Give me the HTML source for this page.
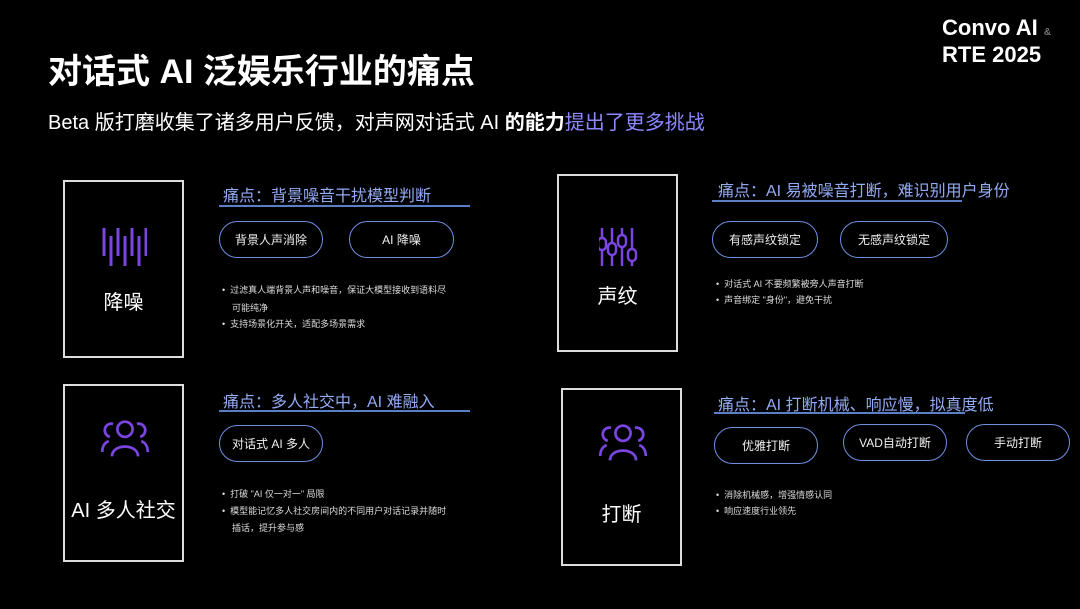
<!DOCTYPE html>
<html><head><meta charset="utf-8"><style>
*{margin:0;padding:0;box-sizing:border-box}
body{width:1080px;height:609px;background:#000;position:relative;overflow:hidden;font-family:"Liberation Sans","Noto Sans CJK SC",sans-serif;color:#fff}
.a{position:absolute;white-space:nowrap}
.box{position:absolute;border:2px solid #ddd}
.lbl{position:absolute;left:0;right:0;text-align:center;font-size:20px}
.h{position:absolute;font-size:16px;color:#93aaf5;white-space:nowrap}
.ul{position:absolute;height:2px;background:#5b7fc4}
.pill{position:absolute;border:1.8px solid #6f8fe0;border-radius:19px;display:flex;align-items:center;justify-content:center;font-size:12px;color:#f0f0f0}
.b{position:absolute;font-size:9px;color:#ddd;white-space:nowrap}
</style></head><body>
<div class="a" style="left:48px;top:44px;font-size:34px;font-weight:bold">对话式 AI 泛娱乐行业的痛点</div>
<div class="a" style="left:48px;top:106px;font-size:20px">Beta 版打磨收集了诸多用户反馈，对声网对话式 AI <b>的能力</b><span style="color:#8c88ff">提出了更多挑战</span></div>
<div class="a" style="left:942px;top:17px;font-size:22px;line-height:22px;font-weight:bold">Convo AI <span style="font-size:10px;color:#777">&amp;</span><br>RTE 2025</div>

<!-- box1 -->
<div class="box" style="left:63px;top:180px;width:121px;height:178px">
<svg style="position:absolute;left:36px;top:44px" width="46" height="42"><g stroke="#7a45e0" stroke-width="3">
<line x1="3" y1="2" x2="3" y2="30"/><line x1="10" y1="10" x2="10" y2="40"/><line x1="17" y1="2" x2="17" y2="30"/><line x1="24" y1="10" x2="24" y2="40"/><line x1="31" y1="2" x2="31" y2="30"/><line x1="38" y1="10" x2="38" y2="40"/><line x1="45" y1="2" x2="45" y2="30"/></g></svg>
<div class="lbl" style="top:104px">降噪</div></div>
<div class="h" style="left:223px;top:182px">痛点：背景噪音干扰模型判断</div>
<div class="ul" style="left:219px;top:205px;width:251px"></div>
<div class="pill" style="left:219px;top:221px;width:104px;height:37px">背景人声消除</div>
<div class="pill" style="left:349px;top:221px;width:105px;height:37px">AI 降噪</div>
<div class="b" style="left:222px;top:283px">•&nbsp; 过滤真人端背景人声和噪音，保证大模型接收到语料尽</div>
<div class="b" style="left:232px;top:301px">可能纯净</div>
<div class="b" style="left:222px;top:317px">•&nbsp; 支持场景化开关，适配多场景需求</div>

<!-- box2 -->
<div class="box" style="left:557px;top:174px;width:121px;height:178px">
<svg style="position:absolute;left:40px;top:52px" width="40" height="40"><g stroke="#7a45e0" stroke-width="2.5" fill="none">
<line x1="3" y1="0" x2="3" y2="38"/><line x1="13" y1="0" x2="13" y2="38"/><line x1="23" y1="0" x2="23" y2="38"/><line x1="33" y1="0" x2="33" y2="38"/>
<rect x="-1" y="10" width="8" height="12" rx="4" fill="#000"/><rect x="9" y="15" width="8" height="12" rx="4" fill="#000"/><rect x="19" y="7" width="8" height="12" rx="4" fill="#000"/><rect x="29" y="21" width="8" height="12" rx="4" fill="#000"/></g></svg>
<div class="lbl" style="top:104px">声纹</div></div>
<div class="h" style="left:718px;top:177px">痛点：AI 易被噪音打断，难识别用户身份</div>
<div class="ul" style="left:712px;top:200px;width:250px"></div>
<div class="pill" style="left:712px;top:221px;width:106px;height:37px">有感声纹锁定</div>
<div class="pill" style="left:840px;top:221px;width:108px;height:37px">无感声纹锁定</div>
<div class="b" style="left:716px;top:277px">•&nbsp; 对话式 AI 不要频繁被旁人声音打断</div>
<div class="b" style="left:716px;top:293px">•&nbsp; 声音绑定 "身份"，避免干扰</div>

<!-- box3 -->
<div class="box" style="left:63px;top:384px;width:121px;height:178px">
<svg style="position:absolute;left:34px;top:32px" width="52" height="42" viewBox="0 0 48 36"><g stroke="#7a45e0" stroke-width="2.5" fill="none">
<circle cx="24" cy="9" r="7"/><path d="M12 34 C12 22 36 22 36 34"/><path d="M13 4 A6 6 0 0 0 10 16"/><path d="M35 4 A6 6 0 0 1 38 16"/><path d="M3 30 C3 24 6 21 9 20"/><path d="M45 30 C45 24 42 21 39 20"/></g></svg>
<div class="lbl" style="top:108px">AI 多人社交</div></div>
<div class="h" style="left:223px;top:388px">痛点：多人社交中，AI 难融入</div>
<div class="ul" style="left:219px;top:410px;width:251px"></div>
<div class="pill" style="left:219px;top:425px;width:104px;height:37px">对话式 AI 多人</div>
<div class="b" style="left:222px;top:487px">•&nbsp; 打破 "AI 仅一对一" 局限</div>
<div class="b" style="left:222px;top:504px">•&nbsp; 模型能记忆多人社交房间内的不同用户对话记录并随时</div>
<div class="b" style="left:232px;top:521px">插话，提升参与感</div>

<!-- box4 -->
<div class="box" style="left:561px;top:388px;width:121px;height:178px">
<svg style="position:absolute;left:34px;top:32px" width="52" height="42" viewBox="0 0 48 36"><g stroke="#7a45e0" stroke-width="2.5" fill="none">
<circle cx="24" cy="9" r="7"/><path d="M12 34 C12 22 36 22 36 34"/><path d="M13 4 A6 6 0 0 0 10 16"/><path d="M35 4 A6 6 0 0 1 38 16"/><path d="M3 30 C3 24 6 21 9 20"/><path d="M45 30 C45 24 42 21 39 20"/></g></svg>
<div class="lbl" style="top:108px">打断</div></div>
<div class="h" style="left:718px;top:391px">痛点：AI 打断机械、响应慢，拟真度低</div>
<div class="ul" style="left:714px;top:412px;width:251px"></div>
<div class="pill" style="left:714px;top:427px;width:104px;height:37px">优雅打断</div>
<div class="pill" style="left:843px;top:424px;width:104px;height:37px">VAD自动打断</div>
<div class="pill" style="left:966px;top:424px;width:104px;height:37px">手动打断</div>
<div class="b" style="left:716px;top:488px">•&nbsp; 消除机械感，增强情感认同</div>
<div class="b" style="left:716px;top:504px">•&nbsp; 响应速度行业领先</div>
</body></html>
